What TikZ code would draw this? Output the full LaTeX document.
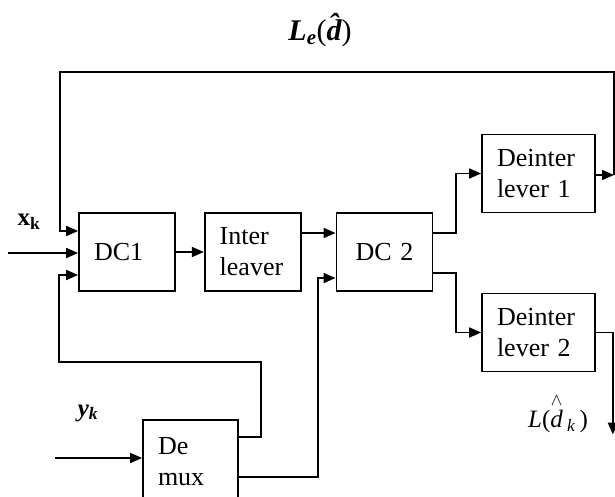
\documentclass[tikz,border=0pt]{standalone}
\usepackage{fontspec}
\usepackage{amsmath}
\setmainfont{Liberation Serif}
\usetikzlibrary{positioning,arrows.meta}

\begin{document}
\begin{tikzpicture}[
  x=1pt, y=-1pt, node distance=28pt,
  font=\fontsize{26}{31}\selectfont,
  box/.style={draw, line width=1.7pt, text width=#1, inner xsep=15pt, inner ysep=2pt, minimum height=78pt, align=left},
  box/.default=66pt,
  arr/.style={-{Triangle[length=12pt,width=10pt]}, line width=1.7pt},
  lab/.style={inner sep=0pt}]
\useasboundingbox (0,0) rectangle (615,496);
\clip (0,0) rectangle (615,496);
% --- main chain
\node[box] (dc1) at (127,252) {DC1};
\node[box, right=28pt of dc1] (inter) {Inter\\leaver};
\node[box, align=center, right=34pt of inter] (dc2) {DC 2};
\node[box=83pt] (deint1) at (538.5,173.5) {Deinter\\lever 1};
\node[box=83pt] (deint2) at (538.5,332.5) {Deinter\\lever 2};
\node[box=65pt, minimum height=84pt] (demux) at (190.5,462) {De\\mux};
% --- labels
\node[lab, font=\fontsize{30}{34}\selectfont] (le) at (320,30) {\bfseries\itshape L\textsubscript{e}\normalfont(\bfseries\itshape \^{d}\normalfont)};
\node[lab, font=\fontsize{25}{28}\selectfont] (xk) at (29,222) {\bfseries x\textsubscript{k}};
\node[lab, font=\fontsize{25}{28}\selectfont] (yk) at (88,413) {\bfseries\itshape y\textsubscript{k}};
\node[lab, font=\fontsize{25}{28}\selectfont] (ld) at (558,413) {\textit{L}($\overset{\wedge}{\textit{d}}\,{}_{\textit{k}}$\,)};
% --- free ends
\coordinate (xin) at (8,253);
\coordinate (yin) at (55,458);
\coordinate (fb) at (614,175);
\coordinate (tl) at (60,72);
\coordinate (loop) at (59,362);
% --- connectors
\draw[arr] (xin) -- (xin -| dc1.west);
\draw[arr] (dc1) -- (inter);
\draw[arr] ([yshift=19pt]inter.east) -- ([yshift=19pt]inter.east -| dc2.west);
\draw[arr] ([yshift=19pt]dc2.east) -- ++(23pt,0) |- (deint1);
\draw[arr] ([yshift=-21pt]dc2.east) -- ++(23pt,0) |- (deint2);
\draw[arr] (deint1.east |- fb) -- (fb);
\draw[arr] (fb) |- (tl) |- ([yshift=21pt]dc1.west);
\draw[arr] (deint2.east) -- ++(17pt,0) -- ++(0,102);
\draw[arr] (yin) -- (yin -| demux.west);
\draw[arr] ([yshift=25pt]demux.east) -- ++(22pt,0) |- (loop) |- ([yshift=-23pt]dc1.west);
\draw[arr] ([yshift=-15pt]demux.east) -- ++(79pt,0) |- ([yshift=-26pt]dc2.west);
\end{tikzpicture}
\end{document}
